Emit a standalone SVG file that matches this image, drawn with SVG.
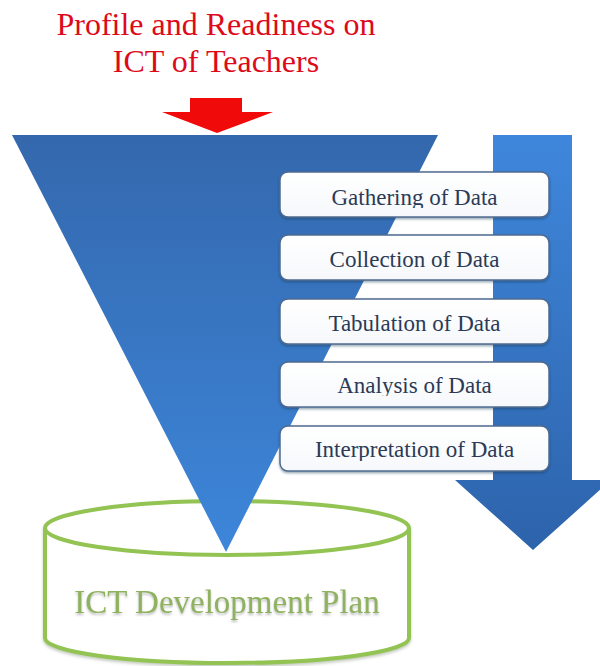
<svg xmlns="http://www.w3.org/2000/svg" width="600" height="666" viewBox="0 0 600 666">
  <defs>
    <linearGradient id="funnelFill" x1="0" y1="0" x2="0" y2="1">
      <stop offset="0" stop-color="#3468ad"/>
      <stop offset="1" stop-color="#3d86da"/>
    </linearGradient>
    <linearGradient id="flowFill" x1="0" y1="0" x2="0" y2="1">
      <stop offset="0" stop-color="#3f87dc"/>
      <stop offset="1" stop-color="#2d63ab"/>
    </linearGradient>
    <linearGradient id="boxFill" x1="0" y1="0" x2="0" y2="1">
      <stop offset="0" stop-color="#ffffff"/>
      <stop offset="1" stop-color="#f6f8fb"/>
    </linearGradient>
    <filter id="softShadow" x="-10%" y="-20%" width="120%" height="150%">
      <feDropShadow dx="0" dy="1.5" stdDeviation="1.2" flood-color="#1e3553" flood-opacity="0.45"/>
    </filter>
    <filter id="greenShadow" x="-10%" y="-10%" width="120%" height="130%">
      <feDropShadow dx="0" dy="2" stdDeviation="1.5" flood-color="#6d7d60" flood-opacity="0.4"/>
    </filter>
    <filter id="textShade" x="-5%" y="-20%" width="110%" height="160%">
      <feDropShadow dx="0" dy="2" stdDeviation="1" flood-color="#8a8a8a" flood-opacity="0.55"/>
    </filter>
    <clipPath id="clip1"><rect x="280" y="172" width="270" height="36"/></clipPath>
    <clipPath id="clip4"><rect x="280" y="362" width="270" height="34"/></clipPath>
    <clipPath id="clip5"><rect x="280" y="426" width="270" height="35"/></clipPath>
  </defs>

  <rect width="600" height="666" fill="#ffffff"/>

  <!-- heading -->
  <g id="title">
    <text x="216" y="35" font-family="Times New Roman" font-size="32" fill="#dd0a1a" text-anchor="middle">Profile and Readiness on</text>
    <text x="216" y="72" font-family="Times New Roman" font-size="32" fill="#dd0a1a" text-anchor="middle">ICT of Teachers</text>
  </g>

  <!-- output store: cylinder -->
  <g id="plan">
    <g fill="#ffffff" stroke="#92c353" stroke-width="4" filter="url(#greenShadow)">
      <path d="M45 528 L45 638 A182 25 0 0 0 409 638 L409 528"/>
      <ellipse cx="227" cy="528" rx="182" ry="27"/>
    </g>
    <text x="227" y="613" font-family="Times New Roman" font-size="33" fill="#8fb25f" text-anchor="middle" filter="url(#textShade)">ICT Development Plan</text>
  </g>

  <!-- inverted funnel -->
  <g id="funnel">
    <polygon points="12,135 438,135 226,552" fill="url(#funnelFill)"/>
  </g>

  <g id="connectors">
    <!-- input arrow -->
    <polygon points="190,98 242,98 242,112 273,112 217,133 162,112 190,112" fill="#f00a0a"/>
    <!-- process flow arrow -->
    <polygon points="493,135 572,135 572,480 611,480 533,550 455,480 493,480" fill="url(#flowFill)"/>
  </g>

  <!-- process steps -->
  <g id="step-gathering">
    <rect x="280" y="172" width="269" height="45" rx="8" fill="url(#boxFill)" stroke="#4f6b90" stroke-width="1.5" filter="url(#softShadow)"/>
    <text x="414.5" y="205" font-family="Times New Roman" font-size="23" fill="#2b3a56" text-anchor="middle" clip-path="url(#clip1)">Gathering of Data</text>
  </g>
  <g id="step-collection">
    <rect x="280" y="235" width="269" height="45" rx="8" fill="url(#boxFill)" stroke="#4f6b90" stroke-width="1.5" filter="url(#softShadow)"/>
    <text x="414.5" y="267" font-family="Times New Roman" font-size="23" fill="#2b3a56" text-anchor="middle">Collection of Data</text>
  </g>
  <g id="step-tabulation">
    <rect x="280" y="299" width="269" height="45" rx="8" fill="url(#boxFill)" stroke="#4f6b90" stroke-width="1.5" filter="url(#softShadow)"/>
    <text x="414.5" y="331" font-family="Times New Roman" font-size="23" fill="#2b3a56" text-anchor="middle">Tabulation of Data</text>
  </g>
  <g id="step-analysis">
    <rect x="280" y="362" width="269" height="45" rx="8" fill="url(#boxFill)" stroke="#4f6b90" stroke-width="1.5" filter="url(#softShadow)"/>
    <text x="414.5" y="393" font-family="Times New Roman" font-size="23" fill="#2b3a56" text-anchor="middle" clip-path="url(#clip4)">Analysis of Data</text>
  </g>
  <g id="step-interpretation">
    <rect x="280" y="426" width="269" height="45" rx="8" fill="url(#boxFill)" stroke="#4f6b90" stroke-width="1.5" filter="url(#softShadow)"/>
    <text x="414.5" y="457" font-family="Times New Roman" font-size="23" fill="#2b3a56" text-anchor="middle" clip-path="url(#clip5)">Interpretation of Data</text>
  </g>
</svg>
